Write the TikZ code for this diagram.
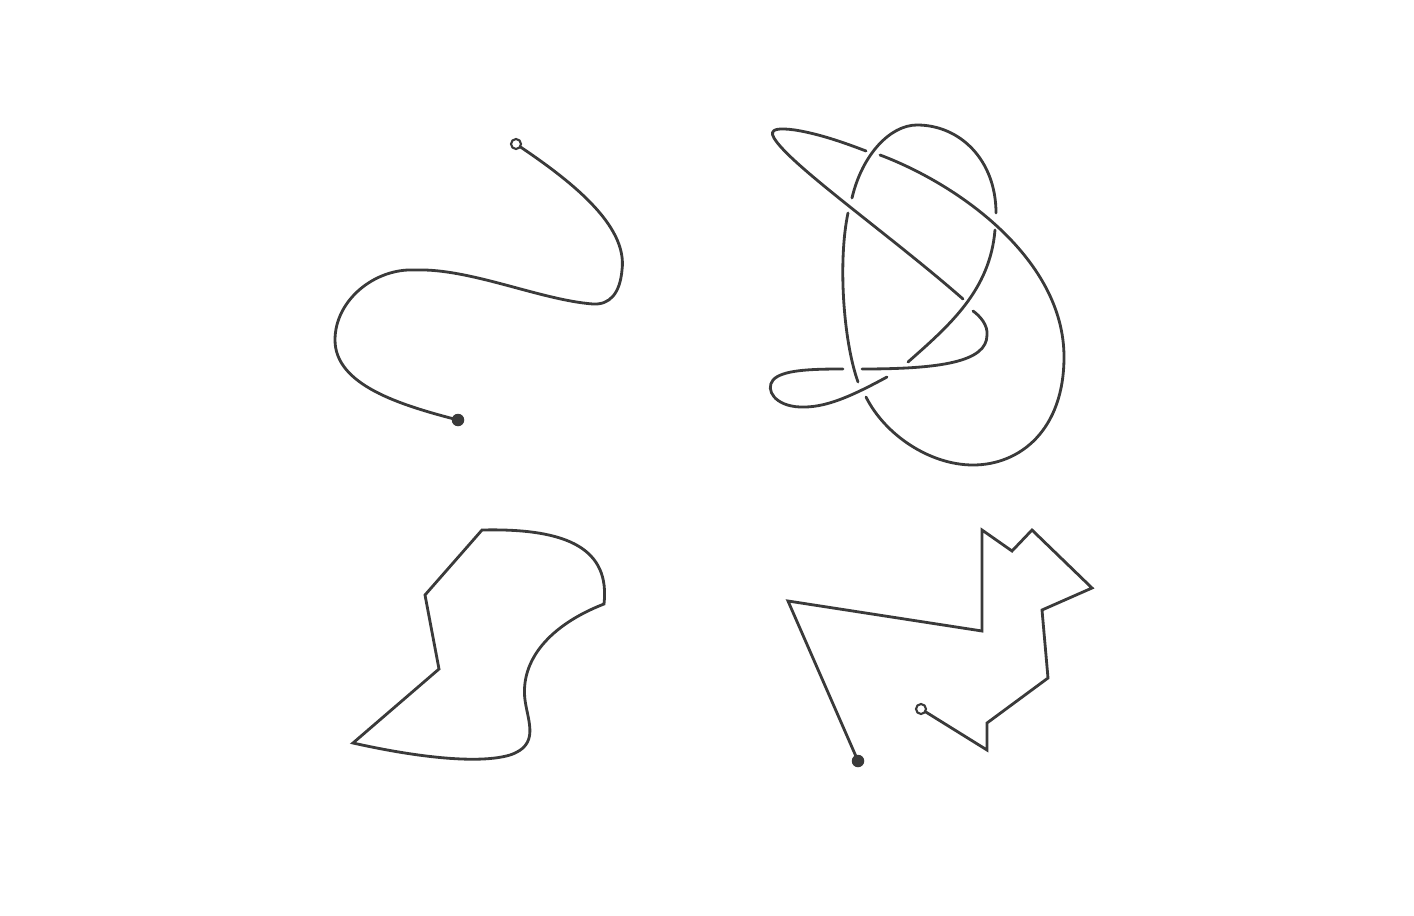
\documentclass[tikz,border=0pt]{standalone}
\usepackage{tikz}
\usetikzlibrary{positioning}
\definecolor{inkgray}{HTML}{3A3A3A}

\begin{document}
\begin{tikzpicture}[
  x=0.02cm, y=-0.02cm,
  strand/.style={draw=inkgray, line width=1.6pt, line cap=round, line join=round},
  polyline/.style={draw=inkgray, line width=1.6pt, line cap=round, line join=miter},
  opendot/.style={circle, draw=inkgray, line width=1.2pt, fill=white, inner sep=0pt, minimum size=0.2cm},
  fulldot/.style={circle, fill=inkgray, inner sep=0pt, minimum size=0.25cm}
]
% ---- Layout note ----
% One unit = one pixel of the 1414 x 916 frame, y runs downwards.
\useasboundingbox (0,0) rectangle (1414,916);

% ---- Open curve (top left) ----
\coordinate (curveStart) at (516,144);
\coordinate (curveEnd) at (458,420);
\draw[strand] (curveStart) .. controls (570,180) and (628,225) .. (622,270)
  .. controls (620,293) and (610,305) .. (593,304)
  .. controls (540,300) and (470,268) .. (415,270)
  .. controls (375,268) and (335,300) .. (335,340)
  .. controls (335,385) and (400,405) .. (curveEnd);
\node[opendot] (startA) at (curveStart) {};
\node[fulldot] (endA) at (curveEnd) {};

% ---- Knot (top right), one stroke per arc between under-crossings ----
% big outer loop
\draw[strand] (880,155) .. controls (960,185) and (1064,260) .. (1064,357)
  .. controls (1064,430) and (1020,465) .. (973,465)
  .. controls (930,465) and (885,435) .. (866,397);
% left side of the inner oval
\draw[strand] (858,382) .. controls (843,340) and (838,260) .. (848,213);
% top of the inner oval
\draw[strand] (852,198) .. controls (862,155) and (890,125) .. (917,125)
  .. controls (960,125) and (996,160) .. (996,213);
% right side of the inner oval, running down-left
\draw[strand] (995,230) .. controls (990,290) and (950,325) .. (908,362);
% small loop on the left
\draw[strand] (887,377) .. controls (850,397) and (825,408) .. (800,407)
  .. controls (775,406) and (765,390) .. (773,380)
  .. controls (782,370) and (810,369) .. (843,369);
% lower horizontal arc
\draw[strand] (862,369) .. controls (940,369) and (987,362) .. (987,335)
  .. controls (988,325) and (980,316) .. (973,311);
% long diagonal and its sharp tip
\draw[strand] (963,299) .. controls (890,235) and (790,165) .. (774,138)
  .. controls (768,128) and (780,128) .. (795,130)
  .. controls (820,134) and (845,143) .. (866,151);

% ---- Closed shape (bottom left), straight sides and curved sides ----
\draw[polyline] (353,743) -- (439,669) -- (425,595) -- (482,530)
  .. controls (570,528) and (610,550) .. (604,604)
  .. controls (550,625) and (520,660) .. (525,700)
  .. controls (528,722) and (540,745) .. (510,755)
  .. controls (480,764) and (420,758) .. (353,743) -- cycle;

% ---- Open polyline (bottom right) ----
\coordinate (lineStart) at (858,761);
\coordinate (lineEnd) at (921,709);
\draw[polyline] (lineStart) -- (788,601) -- (982,631) -- (982,530)
  -- (1012,551) -- (1032,530) -- (1092,588) -- (1042,610) -- (1048,678)
  -- (987,723) -- (987,750) -- (lineEnd);
\node[fulldot] (startB) at (lineStart) {};
\node[opendot] (endB) at (lineEnd) {};

\end{tikzpicture}
\end{document}
